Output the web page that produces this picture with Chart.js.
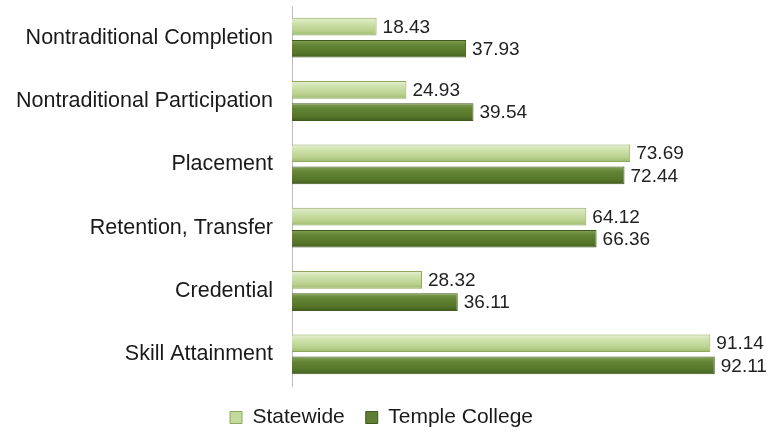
<!DOCTYPE html>
<html lang="en">
<head>
    <meta charset="UTF-8">
    <title>Performance Measures</title>
    <script src="https://cdn.jsdelivr.net/npm/chart.js"></script>
    <style>
        html, body { margin: 0; padding: 0; background: #fff; overflow: hidden; }
        .wrap { width: 767px; height: 438px; }
    </style>
</head>
<body>
    <div class="wrap"><canvas id="measuresChart"></canvas></div>
    <script>
        // categories, top to bottom
        const categories = [
            'Nontraditional Completion',
            'Nontraditional Participation',
            'Placement',
            'Retention, Transfer',
            'Credential',
            'Skill Attainment'
        ];
        const statewide = [18.43, 24.93, 73.69, 64.12, 28.32, 91.14];
        const templeCollege = [37.93, 39.54, 72.44, 66.36, 36.11, 92.11];

        const FONT = '"Liberation Sans", Arial, sans-serif';
        const CAT_PCT = 0.7;
        const BAR_PCT = 0.8;
        const SOLID = ['#c3da9c', '#5f7e33'];

        // gradiente vertical em cada barra (efeito bisel)
        function barFill(stops, fallback, dsIndex) {
            return (c) => {
                const chart = c.chart;
                const y = chart.scales && chart.scales.y;
                if (c.type !== 'data' || !chart.chartArea || !y || y.bottom === undefined) return fallback;
                const band = (y.bottom - y.top) / categories.length;
                const slot = band * CAT_PCT / 2;
                const thick = slot * BAR_PCT;
                const cy = y.getPixelForValue(c.dataIndex) + (dsIndex - 0.5) * slot;
                const g = chart.ctx.createLinearGradient(0, cy - thick / 2, 0, cy + thick / 2);
                stops.forEach(s => g.addColorStop(s[0], s[1]));
                return g;
            };
        }

        // valores escritos a direita de cada barra
        const valueLabels = {
            id: 'valueLabels',
            afterDatasetsDraw(chart) {
                const ctx = chart.ctx;
                ctx.save();
                ctx.font = '19px ' + FONT;
                ctx.fillStyle = '#222';
                ctx.textBaseline = 'middle';
                chart.data.datasets.forEach((ds, i) => {
                    chart.getDatasetMeta(i).data.forEach((bar, j) => {
                        ctx.fillText(ds.data[j].toFixed(2), bar.x + 6, bar.y + 1);
                    });
                });
                ctx.restore();
            }
        };

        new Chart(document.getElementById('measuresChart'), {
            type: 'bar',
            data: {
                labels: categories,
                datasets: [{
                    label: 'Statewide',
                    data: statewide,
                    backgroundColor: barFill([[0, '#e6f0d3'], [0.3, '#cfe2ae'], [0.75, '#b8d08c'], [1, '#9cb86c']], SOLID[0], 0),
                    borderColor: '#8ea85f',
                    borderWidth: 1,
                    barPercentage: BAR_PCT,
                    categoryPercentage: CAT_PCT
                }, {
                    label: 'Temple College',
                    data: templeCollege,
                    backgroundColor: barFill([[0, '#84a255'], [0.3, '#638434'], [0.75, '#55762a'], [1, '#415b1d']], SOLID[1], 1),
                    borderColor: '#3f5a1c',
                    borderWidth: 1,
                    barPercentage: BAR_PCT,
                    categoryPercentage: CAT_PCT
                }]
            },
            options: {
                indexAxis: 'y',
                responsive: true,
                maintainAspectRatio: false,
                animation: false,
                layout: { padding: { left: 12, right: 16, top: 6, bottom: 0 } },
                scales: {
                    x: {
                        display: false,
                        min: 0,
                        max: 100
                    },
                    y: {
                        grid: { display: false, drawTicks: false },
                        border: { display: true, color: '#bdbdbd', width: 1 },
                        ticks: {
                            color: '#1a1a1a',
                            padding: 19,
                            font: { family: FONT, size: 21.5 }
                        },
                        afterFit(scale) {
                            scale.width = 280;
                            scale.paddingTop = 0;
                            scale.paddingBottom = 0;
                        }
                    }
                },
                plugins: {
                    legend: {
                        position: 'bottom',
                        labels: {
                            boxWidth: 12,
                            boxHeight: 12,
                            padding: 21,
                            color: '#1a1a1a',
                            font: { family: FONT, size: 21 },
                            generateLabels(chart) {
                                const items = Chart.defaults.plugins.legend.labels.generateLabels(chart);
                                items.forEach((it, i) => { it.fillStyle = SOLID[i]; });
                                return items;
                            }
                        }
                    },
                    tooltip: { enabled: false }
                }
            },
            plugins: [valueLabels]
        });
    </script>
</body>
</html>
